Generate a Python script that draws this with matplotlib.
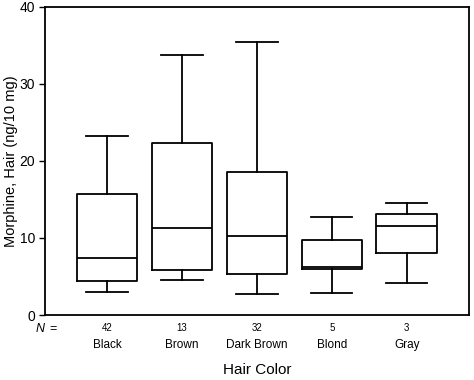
import matplotlib
matplotlib.use("Agg")
import matplotlib.pyplot as plt

plt.rcParams['font.family'] = ['Liberation Sans', 'DejaVu Sans']

categories = ["Black", "Brown", "Dark Brown", "Blond", "Gray"]
n_counts = ["42", "13", "32", "5", "3"]
whislo = [3.0, 4.5, 2.7, 2.8, 4.2]
q1 = [4.45, 5.9, 5.3, 6.0, 8.0]
med = [7.35, 11.3, 10.3, 6.25, 11.6]
q3 = [15.75, 22.3, 18.5, 9.75, 13.1]
whishi = [23.3, 33.8, 35.4, 12.7, 14.5]

stats = []
for i in range(len(categories)):
    stats.append(dict(label=categories[i], whislo=whislo[i], q1=q1[i], med=med[i],
                      q3=q3[i], whishi=whishi[i], fliers=[]))

fig = plt.figure(figsize=(4.74, 3.8), dpi=100)
ax = fig.add_axes([0.095, 0.171, 0.894, 0.811])
positions = list(range(1, len(categories) + 1))
lp = dict(color='black', linewidth=1.3)
ax.bxp(stats, positions=positions, widths=0.81, showfliers=False,
       boxprops=lp, medianprops=lp, whiskerprops=lp, capprops=lp,
       capwidths=0.55)

ax.set_xlim(0.173, 5.827)
ax.set_ylim(0, 40)
ax.set_yticks([0, 10, 20, 30, 40])
ax.tick_params(axis='y', labelsize=10, length=4, width=1, direction='out', pad=3)
ax.tick_params(axis='x', length=0, labelsize=8.5, pad=17)
ax.set_xticks(positions)
ax.set_xticklabels(categories)
for s in ax.spines.values():
    s.set_linewidth(1.3)

trans = ax.get_xaxis_transform()
for p, n in zip(positions, n_counts):
    ax.text(p, -0.025, n, transform=trans, ha='center', va='top', fontsize=7)
ax.text(0.0, -0.025, "N", transform=ax.transAxes, ha='right', va='top',
        fontsize=9, style='italic')
ax.text(0.01, -0.025, "=", transform=ax.transAxes, ha='left', va='top', fontsize=9)

ax.set_ylabel("Morphine, Hair (ng/10 mg)", fontsize=10.5)
ax.yaxis.set_label_coords(-0.063, 0.5)
ax.set_xlabel("Hair Color", fontsize=11)
ax.xaxis.set_label_coords(0.5, -0.157)

fig.savefig("out.png", dpi=100)
